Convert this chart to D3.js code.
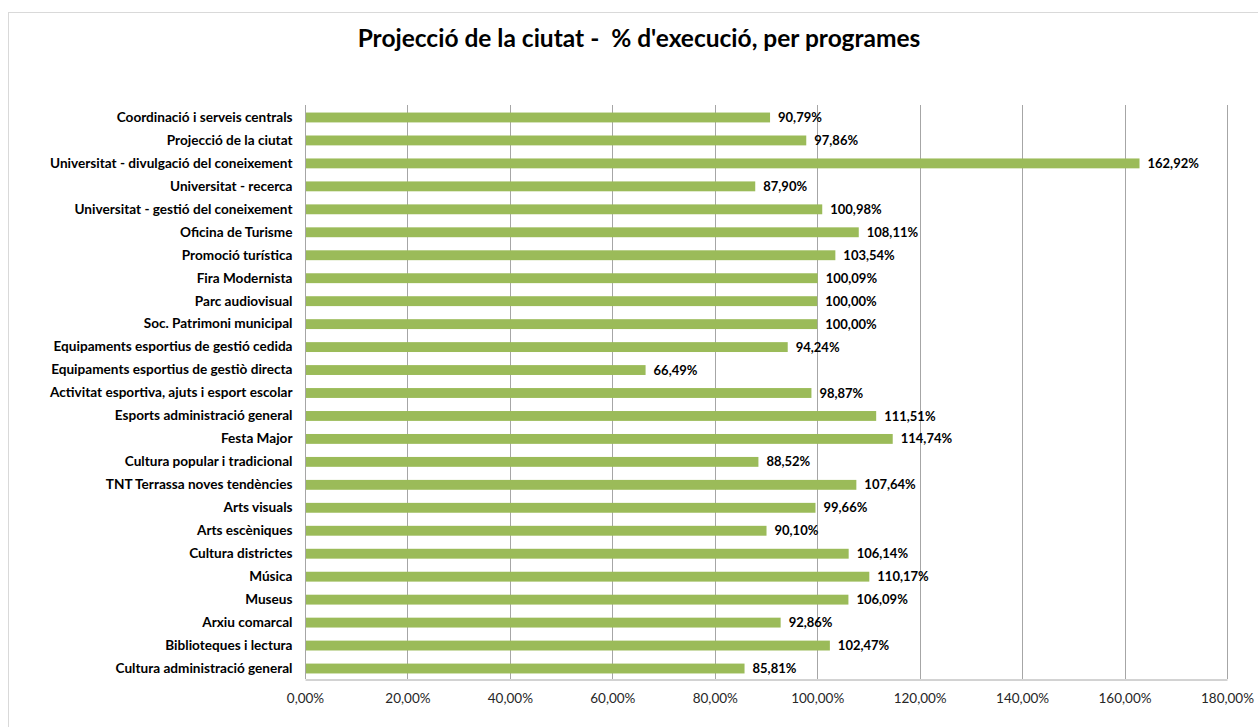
<!DOCTYPE html>
<html lang="ca">
  <head>
    <meta charset="utf-8">
    <script src="https://d3js.org/d3.v7.min.js"></script>
    <style>
      body { margin: 0; background: #fff; }
      text { font-family: Lato, "Open Sans", sans-serif; }
    </style>
  </head>
  <body>
    <script>

    // Data
    var programes = [
      "Coordinació i serveis centrals",
      "Projecció de la ciutat",
      "Universitat - divulgació del coneixement",
      "Universitat - recerca",
      "Universitat - gestió del coneixement",
      "Oficina de Turisme",
      "Promoció turística",
      "Fira Modernista",
      "Parc audiovisual",
      "Soc. Patrimoni municipal ",
      "Equipaments esportius de gestió cedida",
      "Equipaments esportius de gestiò directa",
      "Activitat esportiva, ajuts i esport escolar",
      "Esports administració general",
      "Festa Major",
      "Cultura popular i tradicional",
      "TNT Terrassa noves tendències",
      "Arts visuals",
      "Arts escèniques",
      "Cultura districtes",
      "Música",
      "Museus",
      "Arxiu comarcal",
      "Biblioteques i lectura",
      "Cultura administració general"
    ];
    var execucio = [
      90.79, 97.86, 162.92, 87.90, 100.98, 108.11, 103.54, 100.09, 100.00, 100.00,
      94.24, 66.49, 98.87, 111.51, 114.74, 88.52, 107.64, 99.66, 90.10, 106.14,
      110.17, 106.09, 92.86, 102.47, 85.81
    ];
    var xTicks = [0, 20, 40, 60, 80, 100, 120, 140, 160, 180];

    var dataset = programes.map(function(p, i) {
      return { programa: p, valor: execucio[i] };
    });

    var svgW = 1258, svgH = 727;
    var plotL = 305, plotR = 1227, plotT = 105, plotB = 679;

    var fmt = function(v) { return d3.format(".2f")(v).replace(".", ",") + "%"; };

    var svg = d3.select("body").append("svg")
                .attr("width", svgW)
                .attr("height", svgH);

    // Outer chart border
    svg.append("rect")
       .attr("x", 8.5).attr("y", 12.5)
       .attr("width", 1270).attr("height", 730)
       .attr("fill", "none")
       .attr("stroke", "#d9d9d9");

    // Title
    svg.append("text")
       .attr("x", 639).attr("y", 47)
       .attr("text-anchor", "middle")
       .style("font-size", "24.5px")
       .style("font-weight", "bold")
       .attr("fill", "#000")
       .style("white-space", "pre")
       .text("Projecció de la ciutat -  % d'execució, per programes");

    // Scales
    var xScale = d3.scaleLinear().domain([0, 180]).range([plotL, plotR]);
    var yScale = d3.scaleBand().domain(programes).range([plotT + 1, plotB + 1])
                   .paddingInner(0.57).paddingOuter(0.285);

    // Gridlines
    svg.append("g").selectAll("line")
       .data(xTicks.slice(1))
       .enter().append("line")
       .attr("x1", function(d) { return Math.round(xScale(d)) + 0.5; })
       .attr("x2", function(d) { return Math.round(xScale(d)) + 0.5; })
       .attr("y1", plotT).attr("y2", plotB)
       .attr("stroke", "#a6a6a6");

    // Bars
    svg.append("g").selectAll("rect")
       .data(dataset)
       .enter().append("rect")
       .attr("x", xScale(0))
       .attr("y", function(d) { return yScale(d.programa); })
       .attr("width", function(d) { return xScale(d.valor) - xScale(0); })
       .attr("height", yScale.bandwidth())
       .attr("fill", "#9bbb59");

    // Value labels
    svg.append("g").selectAll("text")
       .data(dataset)
       .enter().append("text")
       .attr("x", function(d) { return xScale(d.valor) + 8; })
       .attr("y", function(d) { return yScale(d.programa) + yScale.bandwidth() / 2; })
       .attr("dy", "0.35em")
       .style("font-size", "13px")
       .style("font-weight", "bold")
       .attr("fill", "#000")
       .text(function(d) { return fmt(d.valor); });

    // Y axis
    var yAxis = d3.axisLeft(yScale).tickSize(0).tickPadding(13);
    var gy = svg.append("g")
                .attr("transform", "translate(" + (Math.round(plotL) + 0.5) + ",0)")
                .call(yAxis);
    gy.select(".domain").attr("stroke", "#a6a6a6").attr("d", "M0," + plotT + "V" + plotB);
    gy.selectAll("text")
      .style("font-size", "13.6px")
      .style("font-weight", "bold")
      .style("font-family", "Lato, sans-serif")
      .attr("fill", "#000");

    // X axis
    var xAxis = d3.axisBottom(xScale).tickValues(xTicks).tickSize(0).tickPadding(14)
                  .tickFormat(fmt);
    var gx = svg.append("g")
                .attr("transform", "translate(0," + (plotB + 0.5) + ")")
                .call(xAxis);
    gx.select(".domain").attr("stroke", "#a6a6a6");
    gx.selectAll("text")
      .style("font-size", "13.5px")
      .style("font-family", "Lato, sans-serif")
      .attr("fill", "#262626");

    </script>
  </body>
</html>
